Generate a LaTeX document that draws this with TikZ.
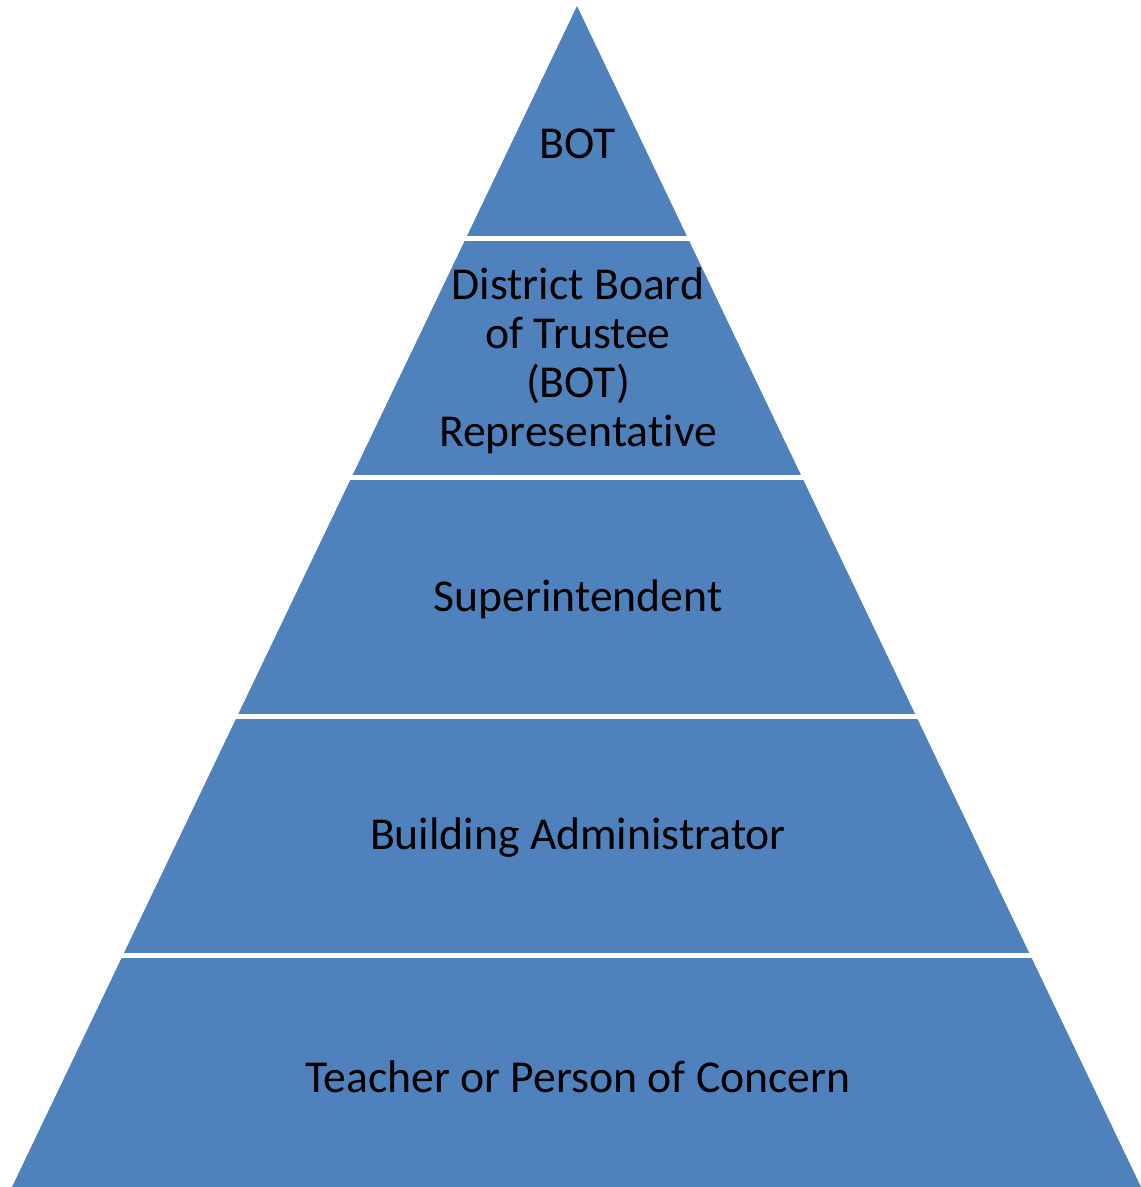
\documentclass[tikz,border=0pt]{standalone}
\usepackage{fontspec}
\setmainfont[Ligatures=NoCommon]{Carlito}
\usepackage{xcolor}
\definecolor{layerblue}{HTML}{4F81BD}
\tikzset{
    layer/.style={fill=layerblue},
    gap/.style={draw=white, line width=2.85pt},
    label/.style={align=center, text=black, font=\fontsize{26}{28}\selectfont}
}

\begin{document}
\begin{tikzpicture}[x=0.02cm, y=-0.02cm]
            \useasboundingbox (0, 0) rectangle (1141, 1187);
            \coordinate (apex) at (577, 6);
            \coordinate (left) at (12, 1187);
            \coordinate (right) at (1141, 1187);
            \fill[layer] (apex) -- (right) -- (left) -- cycle;

            \foreach \y in {238.5, 477.5, 716.5, 955.5} {
                \draw[gap] (0, \y) -- (1141, \y);
            }

            \node[label] (bot) at (578, 144) {BOT};
            \node[label] (rep) at (578, 361) {District Board\\of Trustee\\(BOT)\\Representative};
            \node[label] (sup) at (578, 599) {Superintendent};
            \node[label] (adm) at (578, 838) {Building Administrator};
            \node[label] (tch) at (578, 1077) {Teacher or Person of Concern};
        \end{tikzpicture}
\end{document}
